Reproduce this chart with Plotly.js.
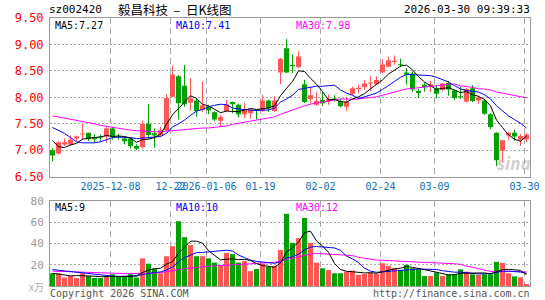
<!DOCTYPE html>
<html><head><meta charset="utf-8">
<script src="https://cdn.plot.ly/plotly-3.0.1.min.js"></script>
<style>html,body{margin:0;padding:0;background:#fff;}#chart{width:545px;height:300px;}</style>
</head><body><div id="chart"></div>
<script>
// ---- data ----
const openP = [7.00,6.94,7.11,7.11,7.22,7.30,7.33,7.25,7.25,7.26, 7.41,7.26,7.22,7.22,7.08,7.06,7.50,7.32,7.29,7.38, 8.01,8.40,8.22,7.90,7.94,7.76,7.83,7.72,7.56,7.74, 7.91,7.86,7.68,7.70,7.77,7.74,7.94,7.74,8.47,8.93, 8.61,8.57,8.25,7.97,7.86,7.95,7.92,7.98,7.93,7.82, 8.07,8.16,8.19,8.26,8.25,8.47,8.58,8.67,8.62,8.47, 8.45,8.12,8.24,8.21,8.17,8.14,8.27,8.13,8.02,7.92, 8.17,7.94,7.94,7.68,7.33,6.99,7.28,7.33,7.20,7.21];
const highP = [7.04,7.17,7.22,7.28,7.28,7.50,7.33,7.30,7.29,7.44, 7.44,7.31,7.25,7.25,7.11,7.56,7.87,7.41,7.44,8.06, 8.60,8.42,8.61,8.36,7.99,8.30,7.86,7.74,7.67,7.95, 7.92,7.88,7.90,7.78,7.78,8.05,7.96,8.02,8.74,9.10, 8.81,8.87,8.33,8.20,8.10,8.10,8.05,8.04,7.97,8.00, 8.20,8.24,8.33,8.40,8.40,8.72,8.77,8.79,8.73,8.55, 8.49,8.16,8.28,8.31,8.22,8.27,8.31,8.15,8.20,8.18, 8.23,8.03,7.97,7.70,7.34,7.20,7.35,7.39,7.31,7.33];
const lowP = [6.79,6.92,7.08,7.09,7.17,7.20,7.17,7.14,7.17,7.14, 7.20,7.20,7.11,7.03,7.00,7.03,7.21,7.05,7.26,7.35, 8.00,7.58,7.82,7.75,7.63,7.72,7.68,7.55,7.44,7.72, 7.70,7.62,7.61,7.60,7.58,7.72,7.72,7.72,8.25,8.46, 8.46,8.55,7.89,7.88,7.84,7.84,7.86,7.92,7.81,7.74, 8.04,8.08,8.14,8.12,8.24,8.46,8.57,8.62,8.57,8.24, 8.10,7.99,8.11,8.10,7.98,8.12,8.03,7.95,7.97,7.90, 7.91,7.88,7.67,7.40,6.70,6.77,7.20,7.18,7.08,7.15];
const closeP = [6.90,7.15,7.15,7.20,7.26,7.31,7.21,7.21,7.24,7.41, 7.25,7.24,7.17,7.08,7.03,7.50,7.29,7.28,7.38,7.99, 8.43,7.89,7.87,7.98,7.74,7.85,7.75,7.58,7.63,7.87, 7.87,7.68,7.77,7.76,7.75,7.94,7.79,7.94,8.73,8.47, 8.59,8.77,7.91,8.04,7.93,7.89,7.97,7.96,7.83,7.91, 8.17,8.18,8.26,8.28,8.33,8.62,8.70,8.69,8.61,8.43, 8.15,8.08,8.19,8.25,8.07,8.26,8.15,7.99,8.00,8.16, 7.93,8.00,7.69,7.44,6.81,7.19,7.33,7.26,7.27,7.30];
const ma5 = [7.18,7.07,7.05,7.10,7.13,7.21,7.23,7.24,7.25,7.28, 7.26,7.27,7.26,7.23,7.15,7.20,7.21,7.24,7.30,7.49, 7.67,7.79,7.91,8.03,7.98,7.87,7.84,7.78,7.71,7.74, 7.74,7.73,7.76,7.79,7.77,7.78,7.80,7.84,8.03,8.17, 8.30,8.50,8.49,8.36,8.25,8.11,7.95,7.96,7.92,7.91, 7.97,8.01,8.07,8.16,8.24,8.33,8.44,8.52,8.59,8.61, 8.52,8.39,8.29,8.22,8.15,8.17,8.18,8.14,8.09,8.11, 8.05,8.02,7.96,7.84,7.57,7.43,7.29,7.21,7.17,7.27];
const ma10 = [7.43,7.38,7.32,7.24,7.16,7.14,7.14,7.14,7.16,7.20, 7.24,7.25,7.25,7.24,7.22,7.23,7.24,7.25,7.26,7.32, 7.44,7.50,7.57,7.66,7.74,7.77,7.82,7.85,7.87,7.86, 7.80,7.78,7.77,7.75,7.75,7.76,7.76,7.80,7.91,7.97, 8.04,8.15,8.17,8.19,8.21,8.21,8.22,8.23,8.14,8.08, 8.04,7.98,8.01,8.04,8.08,8.15,8.22,8.30,8.38,8.43, 8.43,8.42,8.41,8.41,8.38,8.34,8.29,8.22,8.16,8.13, 8.11,8.10,8.05,7.97,7.84,7.74,7.65,7.58,7.51,7.42];
const ma30 = [7.65,7.63,7.60,7.58,7.56,7.54,7.52,7.50,7.47,7.45, 7.43,7.41,7.39,7.38,7.37,7.36,7.35,7.35,7.35,7.36, 7.38,7.39,7.40,7.41,7.41,7.42,7.42,7.43,7.44,7.46, 7.49,7.51,7.53,7.55,7.57,7.59,7.61,7.63,7.68,7.72, 7.76,7.81,7.84,7.87,7.90,7.91,7.93,7.96,7.97,7.97, 7.96,7.97,7.98,7.99,8.01,8.04,8.07,8.11,8.14,8.16, 8.17,8.18,8.20,8.21,8.22,8.23,8.25,8.25,8.22,8.21, 8.19,8.16,8.16,8.14,8.10,8.08,8.06,8.03,8.01,7.99];
const volume = [12,12,8,9.5,7.5,12,9.5,7.5,7.5,9, 11,9,9,11,8,26,21,16,12,28, 37.5,61,46,38.5,28,28,26,22,19,31, 30,22,23.5,14,16,21,18,19,34,68, 40.6,45,64,40.6,22,16.7,15,12,12,13.5, 14.5,10.4,11.3,12.6,11.3,21.4,19,16.7,15,20, 16.7,15.7,9.4,9.4,12.6,9.4,11,11,15.7,13.5, 11,10.4,11,11,22.7,21.7,12,9.1,8.2,1.9];
const volMa5 = [12,11,10,9.5,9.8,9.8,9.3,9.2,8.8,9.1, 8.9,8.8,9.1,9.8,9.6,12.6,15,16.4,16.6,20.6, 22.9,30.9,36.9,42.2,42.2,40.3,33.3,28.5,24.6,25.2, 25.6,24.8,25.1,24.1,21.1,19.3,18.5,17.6,21.6,32, 35.9,41.3,50.3,51.6,42.4,37.7,31.7,21.3,15.5,13.8, 13.4,12.5,12.3,12.5,12.0,13.4,15.1,16.2,16.7,18.4, 17.5,16.8,15.4,14.2,12.8,11.3,10.4,10.7,11.9,12.1, 12.4,12.3,12.3,11.4,13.2,15.4,15.7,15.3,14.7,10.6];
const volMa10 = [15.4,14.8,14.2,13.6,13.0,12.3,11.5,10.6,10.0,9.45, 9.35,9.05,9.15,9.3,9.35,10.75,11.9,12.75,13.2,15.1, 17.75,22.95,26.65,29.4,31.4,31.6,32.1,32.7,33.4,33.7, 32.95,29.05,26.8,24.35,23.15,22.45,21.65,21.35,22.85,26.55, 27.6,29.9,34.0,36.6,37.2,36.8,36.5,35.8,33.6,28.1, 25.5,22.1,16.8,14.0,12.9,13.4,13.8,14.3,14.6,15.2, 15.4,16.0,15.8,15.5,15.6,14.4,13.6,13.0,13.1,12.4, 11.9,11.3,11.5,11.7,12.7,13.9,14.0,13.8,13.1,11.9];
const volMa30 = [14.0,13.8,13.5,13.2,12.9,12.6,12.3,12.1,11.9,11.8, 11.7,11.7,11.7,11.7,11.7,11.8,11.9,12.1,12.6,13.3, 14.2,15.3,16.3,17.0,17.6,18.1,18.6,18.9,19.2,19.4, 20.0,20.35,20.9,21.0,21.3,21.6,21.9,22.3,23.15,25.1, 26.1,27.3,29.1,30.1,30.6,30.3,30.1,29.9,29.9,29.5, 28.7,27.0,25.9,25.0,24.4,24.2,24.0,23.8,23.7,23.3, 22.9,22.65,22.2,22.0,21.9,21.5,21.3,21.0,20.4,18.6, 17.6,16.5,14.7,13.7,13.7,13.9,13.8,13.7,13.6,13.2];
const dateTickIdx = [10,20,26,35,45,55,64,79];
const dateTickText = ['2025-12-08','12-22','2026-01-06','01-19','02-02','02-24','03-09','03-30'];
const priceTicks = [6.5,7.0,7.5,8.0,8.5,9.0,9.5];
const volTicks = [20,40,60,80];
const stockCode = 'sz002420';
const chartTitle = '毅昌科技\u00a0\u00a0–\u00a0\u00a0日K线图';
const stamp = '2026-03-30 09:39:33';
const priceMaText = ['MA5:7.27','MA10:7.41','MA30:7.98'];
const volMaText = ['MA5:9','MA10:10','MA30:12'];

// ---- build ----
const UP = '#ff5555', DN = '#00a000';
const idx = closeP.map((_, i) => i);
const isUp = closeP.map((c, i) => c >= openP[i]);
const col = isUp.map(u => u ? UP : DN);

function wickTrace(up) {
  const xs = [], ys = [];
  idx.forEach(i => { if (isUp[i] === up) { xs.push(i, i, null); ys.push(lowP[i], highP[i], null); } });
  return {type:'scatter', mode:'lines', x:xs, y:ys, line:{color: up ? UP : DN, width:1}, xaxis:'x', yaxis:'y', hoverinfo:'skip'};
}
const bodyBase = idx.map(i => Math.min(openP[i], closeP[i]));
const bodyH = idx.map(i => Math.max(Math.abs(closeP[i] - openP[i]), 0.018));
const BW = 5/6;
const line = (x, y, c, xa, ya) => ({type:'scatter', mode:'lines', x, y, line:{color:c, width:1}, xaxis:xa, yaxis:ya, hoverinfo:'skip'});

const traces = [
  wickTrace(true), wickTrace(false),
  {type:'bar', x:idx, base:bodyBase, y:bodyH, width:BW, marker:{color:col, line:{width:0}}, xaxis:'x', yaxis:'y', hoverinfo:'skip'},
  line(idx, ma30, '#ff00ff', 'x', 'y'),
  line(idx, ma10, '#0000ff', 'x', 'y'),
  line(idx, ma5, '#000000', 'x', 'y'),
  {type:'bar', x:idx, y:volume, width:BW, marker:{color:col, line:{width:0}}, xaxis:'x2', yaxis:'y2', hoverinfo:'skip'},
  line(idx, volMa30, '#ff00ff', 'x2', 'y2'),
  line(idx, volMa10, '#0000ff', 'x2', 'y2'),
  line(idx, volMa5, '#000000', 'x2', 'y2')
];

const L = 50, R = 530, T = 18, B = 286;
const PX = p => (p - L) / (R - L);
const PY = p => (B - p) / (B - T);
const MONO = 'DejaVu Sans Mono';
const gridX = dateTickIdx.map(v => v - 0.33);

const xBase = {range:[-0.4167, 79.5833], tickmode:'array', tickvals:gridX, showgrid:true, gridcolor:'#a8a8a8', gridwidth:1, griddash:'6px,4px', showline:true, mirror:true, linecolor:'#9a9a9a', linewidth:1, ticks:'', zeroline:false, fixedrange:true};

const ann = (text, px, py, xanchor, size, color, family) => ({text, x:PX(px), y:PY(py), xref:'paper', yref:'paper', xanchor, yanchor:'middle', showarrow:false, font:{family: family || MONO, size, color}});

const layout = {
  width:545, height:300, margin:{l:L, r:545-R, t:T, b:300-B}, paper_bgcolor:'#fff', plot_bgcolor:'#fff',
  showlegend:false, barmode:'overlay', hovermode:false,
  xaxis: Object.assign({}, xBase, {anchor:'y', domain:[0,1], ticktext:dateTickText, tickangle:0, tickfont:{family:MONO, size:10, color:'#0a6fc2'}}),
  xaxis2: Object.assign({}, xBase, {anchor:'y2', domain:[0,1], matches:'x', showticklabels:false}),
  yaxis: {domain:[(B-176.7)/(B-T), 1], range:[6.5, 9.5], tickmode:'array', tickvals:priceTicks, ticktext:priceTicks.map(v => v.toFixed(2)), tickfont:{family:MONO, size:12, color:'#ff0000'}, showgrid:true, gridcolor:'#a8a8a8', griddash:'2px,2px', showline:true, mirror:true, linecolor:'#9a9a9a', ticks:'', ticklabelstandoff:3, zeroline:false, fixedrange:true},
  yaxis2: {domain:[0, (B-201)/(B-T)], range:[0, 80], tickmode:'array', tickvals:volTicks, ticktext:volTicks.map(String), tickfont:{family:MONO, size:11, color:'#999'}, showgrid:true, gridcolor:'#a8a8a8', griddash:'2px,2px', showline:true, mirror:true, linecolor:'#9a9a9a', ticks:'', ticklabelstandoff:3, zeroline:false, fixedrange:true},
  annotations: [
    ann(stockCode, 47, 10, 'left', 11, '#000'),
    ann(chartTitle, 116, 10, 'left', 12.5, '#000', 'Noto Sans CJK SC'),
    ann(stamp, 532, 10, 'right', 11, '#000'),
    ann(priceMaText[0], 53, 25, 'left', 10, '#000'),
    ann(priceMaText[1], 174, 25, 'left', 10, '#0000ff'),
    ann(priceMaText[2], 294, 25, 'left', 10, '#ff00ff'),
    ann(volMaText[0], 53, 207, 'left', 10, '#000'),
    ann(volMaText[1], 174, 207, 'left', 10, '#0000ff'),
    ann(volMaText[2], 294, 207, 'left', 10, '#ff00ff'),
    ann('x万', 46, 286, 'right', 10, '#aaa', 'Noto Sans CJK SC'),
    ann('Copyright 2026 SINA.COM', 48, 293, 'left', 10, '#555'),
    ann('http://finance.sina.com.cn', 532, 293, 'right', 10, '#555'),
    ann('<b><i>sina</i></b>', 514, 163, 'center', 17, 'rgba(170,170,170,0.55)', 'Noto Sans')
  ]
};

Plotly.newPlot('chart', traces, layout, {staticPlot:true, displayModeBar:false});
</script></body></html>
